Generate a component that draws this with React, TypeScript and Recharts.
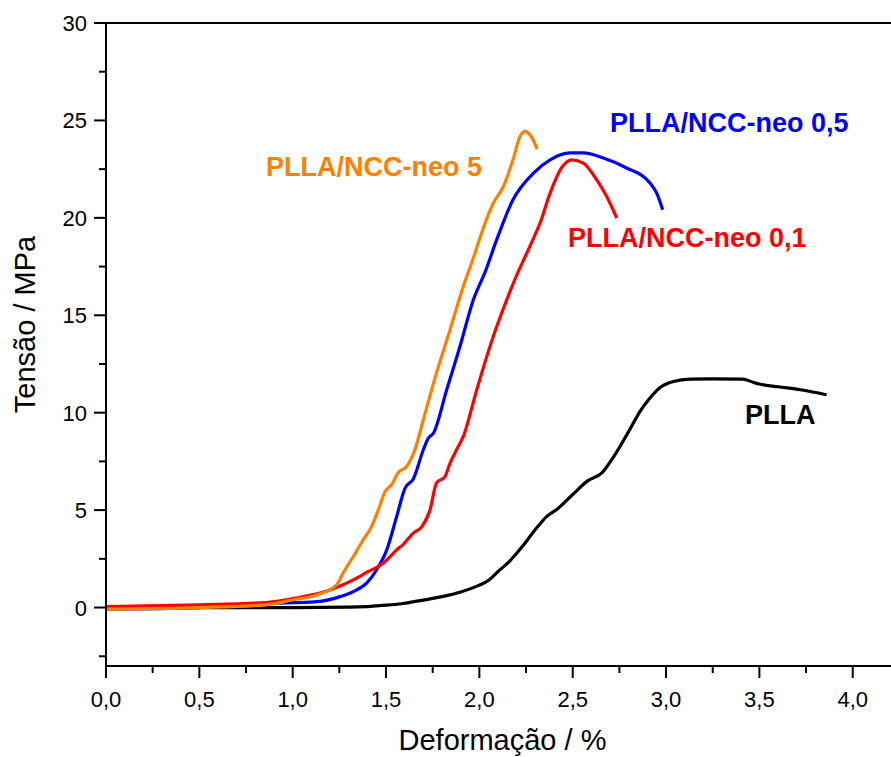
import React from "react";
import { LineChart, Line, XAxis, YAxis, ReferenceLine, ReferenceDot, Label } from "recharts";

// deformação (%) / tensão (MPa)
const pllaStrain = [0, 0.5, 1.0, 1.3, 1.4, 1.5, 1.6, 1.7, 1.8, 1.9, 2.0, 2.05, 2.1, 2.16, 2.23, 2.3, 2.36, 2.42, 2.5, 2.58, 2.655, 2.72, 2.81, 2.86, 2.914, 2.968, 3.04, 3.13, 3.25, 3.41, 3.47, 3.5, 3.6, 3.72, 3.86];
const pllaStress = [0, 0, 0, 0.02, 0.05, 0.12, 0.22, 0.38, 0.56, 0.8, 1.15, 1.4, 1.85, 2.36, 3.13, 4.0, 4.67, 5.07, 5.8, 6.5, 6.9, 7.75, 9.21, 10.06, 10.75, 11.29, 11.6, 11.72, 11.74, 11.72, 11.55, 11.47, 11.33, 11.18, 10.92];

const neo01Strain = [0, 0.5, 0.86, 1.04, 1.146, 1.254, 1.325, 1.396, 1.486, 1.557, 1.59, 1.646, 1.69, 1.736, 1.77, 1.816, 1.843, 1.878, 1.914, 1.986, 2.04, 2.093, 2.147, 2.18, 2.254, 2.29, 2.325, 2.379, 2.44, 2.495, 2.557, 2.628, 2.682, 2.736];
const neo01Stress = [0.05, 0.14, 0.26, 0.53, 0.74, 1.11, 1.42, 1.8, 2.28, 2.96, 3.22, 3.82, 4.13, 5.02, 6.39, 6.72, 7.41, 8.1, 8.78, 11.18, 12.89, 14.42, 15.8, 16.6, 18.19, 18.95, 19.73, 21.27, 22.56, 22.98, 22.81, 21.96, 21.1, 19.99];

const neo05Strain = [0, 0.5, 0.86, 1.13, 1.254, 1.325, 1.396, 1.45, 1.504, 1.557, 1.602, 1.646, 1.7, 1.727, 1.754, 1.825, 1.896, 1.968, 2.03, 2.093, 2.18, 2.29, 2.379, 2.486, 2.557, 2.664, 2.789, 2.914, 2.95, 2.982];
const neo05Stress = [-0.08, 0.0, 0.2, 0.3, 0.56, 0.82, 1.25, 1.94, 2.96, 4.67, 6.13, 6.6, 8.1, 8.7, 8.95, 11.18, 13.4, 15.8, 17.2, 18.88, 20.93, 22.3, 22.98, 23.33, 23.33, 23.07, 22.56, 21.79, 21.27, 20.42];

const neo5Strain = [0, 0.5, 0.86, 1.0, 1.13, 1.236, 1.27, 1.325, 1.378, 1.423, 1.459, 1.495, 1.53, 1.566, 1.61, 1.655, 1.7, 1.77, 1.843, 1.914, 1.977, 2.0, 2.075, 2.129, 2.18, 2.218, 2.245, 2.271, 2.31];
const neo5Stress = [-0.08, 0.0, 0.14, 0.4, 0.65, 1.17, 1.77, 2.62, 3.48, 4.16, 5.02, 5.95, 6.3, 6.93, 7.24, 8.1, 9.64, 12.03, 14.26, 16.48, 18.2, 18.88, 20.76, 21.61, 22.98, 24.18, 24.44, 24.27, 23.53];

const xMajor = [0, 0.5, 1.0, 1.5, 2.0, 2.5, 3.0, 3.5, 4.0];
const xMinor = [0.25, 0.75, 1.25, 1.75, 2.25, 2.75, 3.25, 3.75];
const yMajor = [0, 5, 10, 15, 20, 25, 30];
const yMinor = [-2.5, 2.5, 7.5, 12.5, 17.5, 22.5, 27.5];

const zip = (xs: number[], ys: number[]) => xs.map((x, i) => ({ x, y: ys[i] }));

const pllaData = zip(pllaStrain, pllaStress);
const neo01Data = zip(neo01Strain, neo01Stress);
const neo05Data = zip(neo05Strain, neo05Stress);
const neo5Data = zip(neo5Strain, neo5Stress);

const XTick = (props: any) => {
  const { x, y, payload } = props;
  const v = payload.value;
  const major = xMajor.includes(v);
  return (
    <g>
      <line x1={x} x2={x} y1={y} y2={y + (major ? 12 : 7)} stroke="#000" strokeWidth={2} />
      {major && (
        <text x={x} y={y + 41} textAnchor="middle" fontSize={22} fill="#000">
          {v.toFixed(1).replace(".", ",")}
        </text>
      )}
    </g>
  );
};

const YTick = (props: any) => {
  const { x, y, payload } = props;
  const v = payload.value;
  const major = yMajor.includes(v);
  return (
    <g>
      <line x1={x - (major ? 12 : 7)} x2={x} y1={y} y2={y} stroke="#000" strokeWidth={2} />
      {major && (
        <text x={x - 19} y={y + 8} textAnchor="end" fontSize={22} fill="#000">
          {v}
        </text>
      )}
    </g>
  );
};

const tag = (text: string, color: string) => (props: any) => {
  const { viewBox } = props;
  return (
    <text x={viewBox.x} y={viewBox.y} dominantBaseline="central" fontSize={27} fontWeight="bold" fill={color}>
      {text}
    </text>
  );
};

export default function App() {
  return (
    <div style={{ position: "absolute", left: 0, top: 0, width: 891, height: 757, overflow: "hidden", background: "#fff", fontFamily: "'Liberation Sans', Arial, sans-serif" }}>
      <LineChart width={891} height={757} margin={{ top: 23, right: 0, bottom: 0, left: 0 }}>
        <XAxis
          dataKey="x"
          type="number"
          domain={[0, 4.205]}
          allowDataOverflow
          ticks={[...xMajor, ...xMinor].sort((a, b) => a - b)}
          interval={0}
          height={91}
          tickSize={0}
          tickMargin={0}
          tickLine={false}
          tick={XTick}
          axisLine={{ stroke: "#000", strokeWidth: 2 }}
        >
          <Label
            content={(p: any) => (
              <text x={p.viewBox.x + p.viewBox.width / 2 + 4} y={p.viewBox.y + 84} textAnchor="middle" fontSize={29} fill="#000">
                Deformação / %
              </text>
            )}
          />
        </XAxis>
        <YAxis
          type="number"
          domain={[-3, 30]}
          allowDataOverflow
          ticks={[...yMajor, ...yMinor].sort((a, b) => a - b)}
          interval={0}
          width={106}
          tickSize={0}
          tickMargin={0}
          tickLine={false}
          tick={YTick}
          axisLine={{ stroke: "#000", strokeWidth: 2 }}
        >
          <Label
            content={(p: any) => {
              const cx = p.viewBox.x + 35;
              const cy = p.viewBox.y + p.viewBox.height / 2 - 20;
              return (
                <text x={cx} y={cy} transform={`rotate(-90, ${cx}, ${cy})`} textAnchor="middle" fontSize={29} fill="#000">
                  Tensão / MPa
                </text>
              );
            }}
          />
        </YAxis>
        <ReferenceLine y={30} stroke="#000" strokeWidth={2} />
        <Line data={pllaData} dataKey="y" stroke="#000000" strokeWidth={3.2} dot={false} type="monotone" isAnimationActive={false} />
        <Line data={neo05Data} dataKey="y" stroke="#0000ff" strokeWidth={3.2} dot={false} type="monotone" isAnimationActive={false} />
        <Line data={neo01Data} dataKey="y" stroke="#ff0000" strokeWidth={3.2} dot={false} type="monotone" isAnimationActive={false} />
        <Line data={neo5Data} dataKey="y" stroke="#ff8000" strokeWidth={3.2} dot={false} type="monotone" isAnimationActive={false} />
        <ReferenceDot x={0.857} y={22.62} r={0} fill="none" stroke="none" label={{ content: tag("PLLA/NCC-neo 5", "#ff8000") }} />
        <ReferenceDot x={2.7} y={24.85} r={0} fill="none" stroke="none" label={{ content: tag("PLLA/NCC-neo 0,5", "#0000ff") }} />
        <ReferenceDot x={2.475} y={18.95} r={0} fill="none" stroke="none" label={{ content: tag("PLLA/NCC-neo 0,1", "#ff0000") }} />
        <ReferenceDot x={3.423} y={9.87} r={0} fill="none" stroke="none" label={{ content: tag("PLLA", "#000000") }} />
      </LineChart>
    </div>
  );
}
